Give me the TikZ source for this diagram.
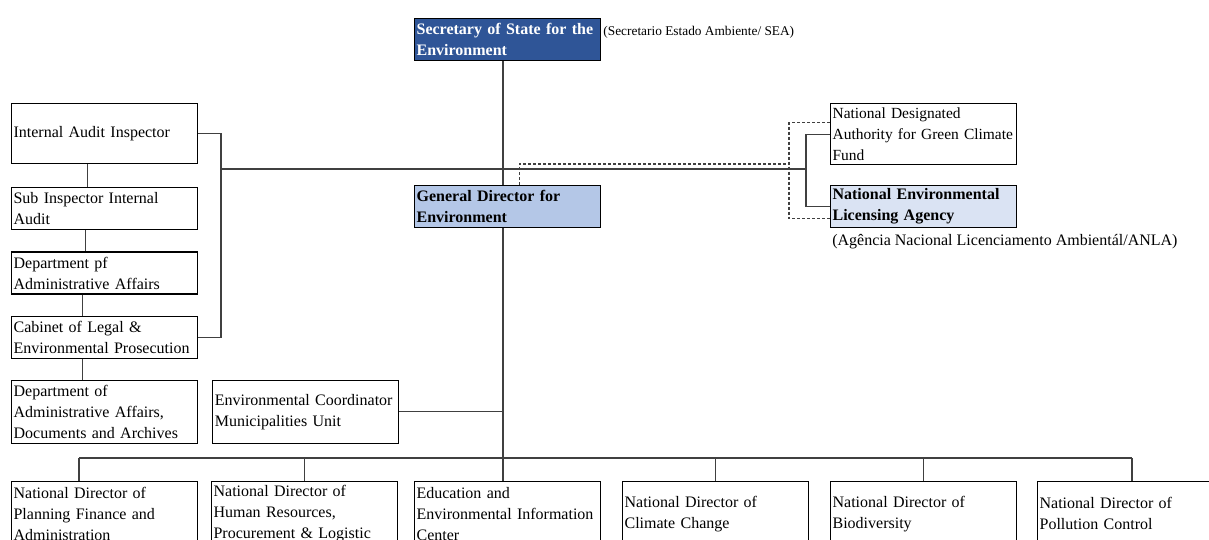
\documentclass[tikz,border=0pt]{standalone}
\usepackage{fontspec}
\setmainfont{Liberation Serif}
\usetikzlibrary{positioning}
\definecolor{seablue}{HTML}{2F5597}
\definecolor{gdblue}{HTML}{B4C7E7}
\definecolor{anlablue}{HTML}{DAE3F3}
\tikzset{node distance=15.75pt, % Gap between the boxes of the left column
unit/.style={ % Sets the properties for each box of the chart
draw, line width=0.9pt, fill=white, anchor=north west,
text width=136.5pt, inner xsep=1.5pt, inner ysep=1pt,
minimum height=31.5pt, align=left,
font=\fontsize{12pt}{15.75pt}\selectfont},
tall/.style={minimum height=47.25pt}, % three lines of text
head/.style={unit, font=\bfseries\fontsize{12pt}{15.75pt}\selectfont},
note/.style={inner xsep=1.5pt, inner ysep=1pt}, % text beside a box
link/.style={draw=black!75, line width=0.8pt}, % lines of the chart
dashlink/.style={link, dash pattern=on 2.25pt off 1.5pt}}

\begin{document}
\begin{tikzpicture}[x=0.75pt, y=-0.75pt] % one unit is one pixel, y runs down
    \useasboundingbox (0,0) rectangle (1209,539);
    \clip (0,0) rectangle (1209,539);
    % top of the chart
    \node[head, fill=seablue, text=white] (sea) at (414,18) {Secretary of State for the\\Environment};
    \node[note, anchor=west, font=\fontsize{10pt}{12pt}\selectfont] (sealbl) at ([yshift=5.6pt]sea.east) {(Secretario Estado Ambiente/ SEA)};
    \node[head, fill=gdblue] (gd) at (414,185) {General Director for\\Environment};
    \node[unit, minimum height=45.75pt, font=\fontsize{11.6pt}{15.5pt}\selectfont] (nda) at (830,103) {National Designated\\Authority for Green Climate\\Fund};
    \node[head, fill=anlablue] (nela) at (830,185) {National Environmental\\Licensing Agency};
    \node[note, anchor=west, font=\fontsize{12pt}{15pt}\selectfont] (anla) at ([yshift=-9.75pt]nela.south west) {(Agência Nacional Licenciamento Ambientál/ANLA)};
    % left column
    \node[unit, minimum height=45pt] (iai) at (11,103) {Internal Audit Inspector};
    \node[unit, below=17.25pt of iai] (sub) {Sub Inspector Internal\\Audit};
    \node[unit, below=of sub] (dpf) {Department pf\\Administrative Affairs};
    \node[unit, below=of dpf] (cab) {Cabinet of Legal \&\\Environmental Prosecution};
    \node[unit, tall, below=of cab] (daa) {Department of\\Administrative Affairs,\\Documents and Archives};
    \node[unit, tall, right=10.5pt of daa] (ecmu) {Environmental Coordinator\\Municipalities Unit};
    % national directors
    \node[unit, minimum height=48pt] (plan) at (11,481) {National Director of\\Planning Finance and\\Administration};
    \node[unit, minimum height=48pt] (hr) at (211,481) {National Director of\\Human Resources,\\Procurement \& Logistic};
    \node[unit, minimum height=48pt] (edu) at (414,481) {Education and\\Environmental Information\\Center};
    \node[unit, minimum height=48pt] (clim) at (622,481) {National Director of\\Climate Change};
    \node[unit, minimum height=48pt] (bio) at (830,481) {National Director of\\Biodiversity};
    \node[unit, minimum height=48pt] (poll) at (1037,481) {National Director of\\Pollution Control};

    \coordinate (spine) at (503,169);
    \coordinate (lbus) at (221,169);
    \coordinate (rbus) at (806,169);
    \coordinate (dbus) at (789,164);
    \coordinate (bbusL) at (79,458);
    \coordinate (bbusR) at (1132,458);

    \draw[link] (sea.south -| spine) -- (gd.north -| spine);
    \draw[link] (gd.south -| spine) -- (edu.north -| spine);
    \draw[link] (lbus) -- (rbus);
    \draw[link] (iai.east) -| (lbus) |- (cab.east);
    \draw[link] (nda.west) -| (rbus) |- (nela.west);
    \draw[dashlink] ([xshift=8.6pt]gd.north) |- (dbus);
    \draw[dashlink] ([yshift=8.6pt]nda.west) -| (dbus) |- ([yshift=-9pt]nela.west);
    \draw[link] (ecmu.east) -- (ecmu.east -| spine);
    \foreach \a/\b/\dx in {iai/sub/-12.75pt, sub/dpf/-14.25pt, dpf/cab/-16.5pt, cab/daa/-16.5pt}
        \draw[link] ([xshift=\dx]\a.south) -- ([xshift=\dx]\b.north);
    \draw[link] (bbusL) -- (bbusR);
    \draw[link] (bbusL) -- (bbusL |- plan.north);
    \draw[link] (bbusR) -- (bbusR |- poll.north);
    \foreach \n in {hr, clim, bio}
        \draw[link] (\n.north) -- (\n.north |- bbusL);

\end{tikzpicture}
\end{document}
